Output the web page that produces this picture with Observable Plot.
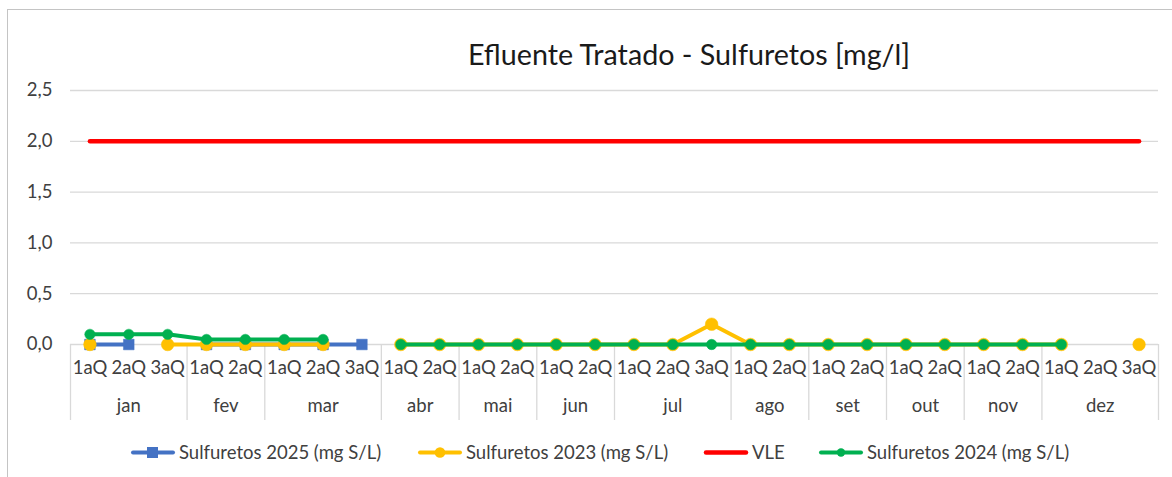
<!DOCTYPE html>
<html>
<head>
<meta charset="utf-8">
<script src="https://cdn.jsdelivr.net/npm/d3@7"></script>
<script src="https://cdn.jsdelivr.net/npm/@observablehq/plot@0.6"></script>
<style>
  body { margin: 0; background: #fff; font-family: Lato, "Open Sans", sans-serif; }
  #wrap { position: relative; width: 1172px; height: 477px; overflow: hidden; background: #fff; }
  #frame { position: absolute; left: 7px; top: 9px; width: 1250px; height: 600px; border: 1.5px solid #c4c4c4; box-sizing: border-box; }
  #chart { position: absolute; left: 0; top: 0; }
  #title { position: absolute; left: 689px; top: 37px; transform: translateX(-50%); font-size: 28.7px; color: #1a1a1a; white-space: nowrap; }
  .leg { position: absolute; top: 441px; display: flex; align-items: center; font-size: 18.5px; color: #404040; white-space: nowrap; }
  .leg svg { margin-right: 3px; }
</style>
</head>
<body>
<div id="wrap">
  <div id="frame"></div>
  <div id="chart"></div>
  <div id="title">Efluente Tratado - Sulfuretos [mg/l]</div>
  <div id="legend"></div>
</div>
<script>
// ---- data ----
const catMonth = ["jan","jan","jan","fev","fev","mar","mar","mar","abr","abr","mai","mai","jun","jun","jul","jul","jul","ago","ago","set","set","out","out","nov","nov","dez","dez","dez"];
const catQuarter = ["1aQ","2aQ","3aQ","1aQ","2aQ","1aQ","2aQ","3aQ","1aQ","2aQ","1aQ","2aQ","1aQ","2aQ","1aQ","2aQ","3aQ","1aQ","2aQ","1aQ","2aQ","1aQ","2aQ","1aQ","2aQ","1aQ","2aQ","3aQ"];
const s2025 = [0, 0, null, 0, 0, 0, 0, 0, null, null, null, null, null, null, null, null, null, null, null, null, null, null, null, null, null, null, null, null];
const s2023 = [0, null, 0, 0, 0, 0, 0, null, 0, 0, 0, 0, 0, 0, 0, 0, 0.2, 0, 0, 0, 0, 0, 0, 0, 0, 0, null, 0];
const vle   = [2, 2, 2, 2, 2, 2, 2, 2, 2, 2, 2, 2, 2, 2, 2, 2, 2, 2, 2, 2, 2, 2, 2, 2, 2, 2, 2, 2];
const s2024 = [0.1, 0.1, 0.1, 0.05, 0.05, 0.05, 0.05, null, 0, 0, 0, 0, 0, 0, 0, 0, 0, 0, 0, 0, 0, 0, 0, 0, 0, 0, null, null];
const yTicks = [0, 0.5, 1, 1.5, 2, 2.5];

const seriesInfo = [
  {name: "Sulfuretos 2025 (mg S/L)", values: s2025, color: "#4472C4", symbol: "square", r: 6, width: 4},
  {name: "Sulfuretos 2023 (mg S/L)", values: s2023, color: "#FFC000", symbol: "circle", r: 6.3, width: 4},
  {name: "VLE", values: vle, color: "#FF0000", symbol: null, r: 0, width: 4.5},
  {name: "Sulfuretos 2024 (mg S/L)", values: s2024, color: "#00B050", symbol: "circle", r: 5.2, width: 4}
];

// ---- derived tables ----
const idx = catQuarter.map((_, i) => i);
const groups = [];
catMonth.forEach((m, i) => {
  const g = groups[groups.length - 1];
  if (g && g.month === m) { g.end = i; } else { groups.push({month: m, start: i, end: i}); }
});
groups.forEach(g => g.center = (g.start + g.end) / 2);
const bounds = [groups[0].start - 0.5, ...groups.map(g => g.end + 0.5)];

const FS = 18.5;
const marks = [
  Plot.gridY(yTicks, {stroke: "#d9d9d9", strokeOpacity: 1, strokeWidth: 1.3}),
  Plot.ruleX(bounds, {stroke: "#d9d9d9", strokeWidth: 1.3, insetTop: 254, insetBottom: -76}),
  Plot.axisY(yTicks, {tickSize: 0, tickPadding: 18, tickFormat: d => d.toFixed(1).replace(".", ","), fontSize: FS, fill: "#404040", label: null}),
  Plot.axisX(idx, {tickSize: 0, tickPadding: 16, tickFormat: i => catQuarter[i], fontSize: FS, fill: "#404040", label: null}),
  Plot.text(groups, {x: "center", text: "month", frameAnchor: "bottom", dy: 67, fontSize: FS, fill: "#404040"})
];
for (const s of seriesInfo) {
  marks.push(Plot.line(idx, {x: i => i, y: i => s.values[i], stroke: s.color, strokeWidth: s.width, strokeLinejoin: "round", strokeLinecap: "round"}));
  if (s.symbol) {
    marks.push(Plot.dot(idx, {x: i => i, y: i => s.values[i], fill: s.color, stroke: s.color, strokeWidth: 0.5, symbol: s.symbol, r: s.r}));
  }
}

const chart = Plot.plot({
  width: 1172,
  height: 477,
  marginLeft: 70,
  marginRight: 14,
  marginTop: 90,
  marginBottom: 133,
  style: {fontFamily: "Lato, 'Open Sans', sans-serif", background: "transparent", overflow: "visible"},
  x: {type: "linear", domain: [-0.5, 27.5], label: null},
  y: {domain: [0, 2.5], label: null},
  marks
});
document.getElementById("chart").appendChild(chart);

// ---- legend ----
const legendLefts = [130, 417, 703, 818];
const legend = document.getElementById("legend");
seriesInfo.forEach((s, k) => {
  const item = document.createElement("div");
  item.className = "leg";
  item.style.left = legendLefts[k] + "px";
  let marker = "";
  if (s.symbol === "square") marker = `<rect x="17" y="5" width="11" height="11" fill="${s.color}"/>`;
  else if (s.symbol === "circle") marker = `<circle cx="23" cy="10.5" r="${s.r - 1}" fill="${s.color}"/>`;
  item.innerHTML = `<svg width="46" height="21"><line x1="3" x2="43" y1="10.5" y2="10.5" stroke="${s.color}" stroke-width="${s.width}" stroke-linecap="round"/>${marker}</svg><span>${s.name}</span>`;
  legend.appendChild(item);
});
</script>
</body>
</html>
